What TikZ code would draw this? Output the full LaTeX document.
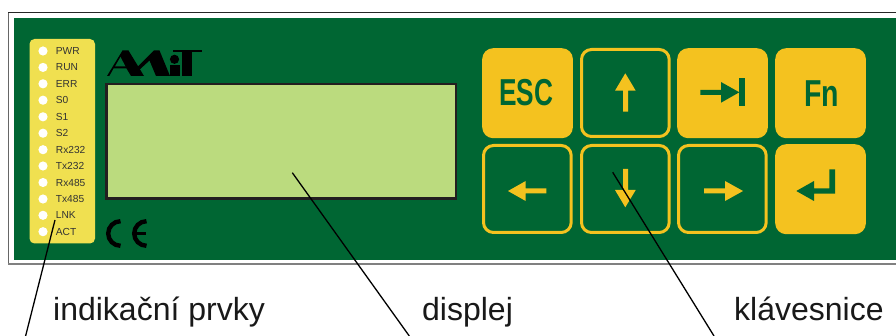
\documentclass[tikz,border=0pt]{standalone}
\usepackage{fontspec}
\setmainfont{Liberation Sans}
\definecolor{pcb}{HTML}{006633}
\definecolor{keyy}{HTML}{F4C21F}
\definecolor{panely}{HTML}{F0E050}
\definecolor{lcd}{HTML}{BBDB7E}
\definecolor{lcdedge}{HTML}{231F20}
\tikzset{
  keyfull/.style={rectangle,rounded corners=11pt,fill=keyy,inner sep=0pt,minimum width=90.7pt,minimum height=90pt},
  keyline/.style={rectangle,rounded corners=10pt,draw=keyy,fill=pcb,line width=3pt,inner sep=0pt,minimum width=87.7pt,minimum height=87pt},
  leddot/.style={circle,fill=white,inner sep=0pt,minimum size=9.2pt},
  ledtext/.style={anchor=base west,inner sep=0pt,font=\fontsize{10.2pt}{11pt}\selectfont,text=black!80},
  caption/.style={anchor=base west,inner sep=0pt,font=\fontsize{32pt}{34pt}\selectfont,text=black!90},
  leader/.style={draw=black,line width=1.3pt},
  keytext/.style={inner sep=0pt,text=pcb,font=\fontsize{37.5pt}{38pt}\selectfont\bfseries},
}
\begin{document}
\begin{tikzpicture}[x=1pt,y=-1pt]
\useasboundingbox (0,0) rectangle (896,336);
% housing frame
\fill[white] (0,0) rectangle (896,336);
\draw[draw=black!60,line width=1.2pt] (8.5,12.5) -- (8.5,264);
\draw[draw=black!85,line width=1.2pt] (8,12.5) -- (896,12.5);
\draw[draw=black!50,line width=1.5pt] (8,264) -- (896,264);
\fill[pcb] (14,18) rectangle (896,260);
% LED panel
\fill[panely,rounded corners=5pt] (29.5,39) rectangle (95,243.5);
\foreach \ledy/\ledname/\ledtag in {51/PWR/a,67.4/RUN/b,83.8/ERR/c,100.2/S0/d,116.8/S1/e,133.2/S2/f,149.7/Rx232/g,166/Tx232/h,182.5/Rx485/i,199/Tx485/j,215.3/LNK/k,231.7/ACT/l}{
  \node[leddot] (led\ledtag) at (43,\ledy) {};
  \node[ledtext] (txt\ledtag) at (55.7,\ledy+3.6) {\ledname};
}
% logo
\fill[black] (107,76) -- (122.5,50.5) -- (128.5,50.5) -- (144,76) -- (131,76) -- (126.5,68.5) -- (113.5,68.5) -- (109.3,76) -- cycle;
\fill[pcb] (120.5,57) -- (115,66.5) -- (125.5,66.5) -- cycle;
\fill[black] (135,69.5) -- (154,50.5) -- (159.5,50.5) -- (170,76) -- (156,76) -- (149.5,60.5) -- (137,72) -- cycle;
\fill[black] (174.5,59.3) circle (4.6);
\fill[black] (170,65.5) rectangle (180,76);
\fill[black] (173,50) rectangle (202,52);
\fill[black] (182,50) rectangle (192,76);
% display
\node[rectangle,draw=lcdedge,fill=lcd,line width=2.7pt,inner sep=0pt,minimum width=349.3pt,minimum height=114.3pt,anchor=north west] (lcdscreen) at (105.4,82.8) {};
% CE
\draw[black,line width=4.4pt] (120.5,245.8) arc[start angle=90,end angle=270,radius=12.3];
\draw[black,line width=4.4pt] (146.5,245.8) arc[start angle=90,end angle=270,radius=12.3];
\draw[black,line width=3.4pt] (132,233.5) -- (145.5,233.5);
% keys
\node[keyfull,anchor=north west] (kesc) at (482,48) {};
\node[keyline,anchor=north west] (kup) at (580,48) {};
\node[keyfull,anchor=north west] (ktab) at (677,48) {};
\node[keyfull,anchor=north west] (kfn) at (775,48) {};
\node[keyline,anchor=north west] (kleft) at (482,144) {};
\node[keyline,anchor=north west] (kdown) at (580,144) {};
\node[keyline,anchor=north west] (kright) at (677,144) {};
\node[keyfull,anchor=north west] (kenter) at (775,144) {};
\node[keytext] (escl) at (526.3,92.5) {\scalebox{.7}[1]{ESC}};
\node[keytext] (fnl) at (821.5,93.3) {\scalebox{.76}[1]{Fn}};
% key symbols
\fill[keyy] (625.3,73.3) -- (635.7,90.7) -- (628,90.7) -- (628,111.7) -- (623,111.7) -- (623,90.7) -- (615,90.7) -- cycle;
\fill[keyy] (625.3,207.3) -- (635.7,190) -- (628,190) -- (628,169) -- (623,169) -- (623,190) -- (615,190) -- cycle;
\fill[keyy] (508,191) -- (525.7,181) -- (525.7,188.5) -- (546.3,188.5) -- (546.3,193.5) -- (525.7,193.5) -- (525.7,201) -- cycle;
\fill[keyy] (743,191) -- (725,181) -- (725,188.5) -- (704,188.5) -- (704,193.5) -- (725,193.5) -- (725,201) -- cycle;
\fill[pcb] (739.3,92.3) -- (721,82) -- (721,89.8) -- (700.3,89.8) -- (700.3,94.8) -- (721,94.8) -- (721,102.7) -- cycle;
\fill[pcb] (739,78) rectangle (745,106);
\fill[pcb] (796.3,191) -- (814,181) -- (814,188.5) -- (829.3,188.5) -- (829.3,169.3) -- (835,169.3) -- (835,193.7) -- (814,193.7) -- (814,201) -- cycle;
% captions
\node[caption] (capind) at (53,320.5) {indikační prvky};
\node[caption] (capdisp) at (422,320.5) {displej};
\node[caption] (capkey) at (734,320.5) {klávesnice};
% leaders
\coordinate (tipind) at (55,220);
\coordinate (endind) at (25.6,336);
\coordinate (tipdisp) at (292.3,172.7);
\coordinate (enddisp) at (409.3,336);
\coordinate (tipkey) at (612.7,172.3);
\coordinate (endkey) at (714,336);
\draw[leader] (tipind) -- (endind);
\draw[leader] (tipdisp) -- (enddisp);
\draw[leader] (tipkey) -- (endkey);
\end{tikzpicture}
\end{document}
